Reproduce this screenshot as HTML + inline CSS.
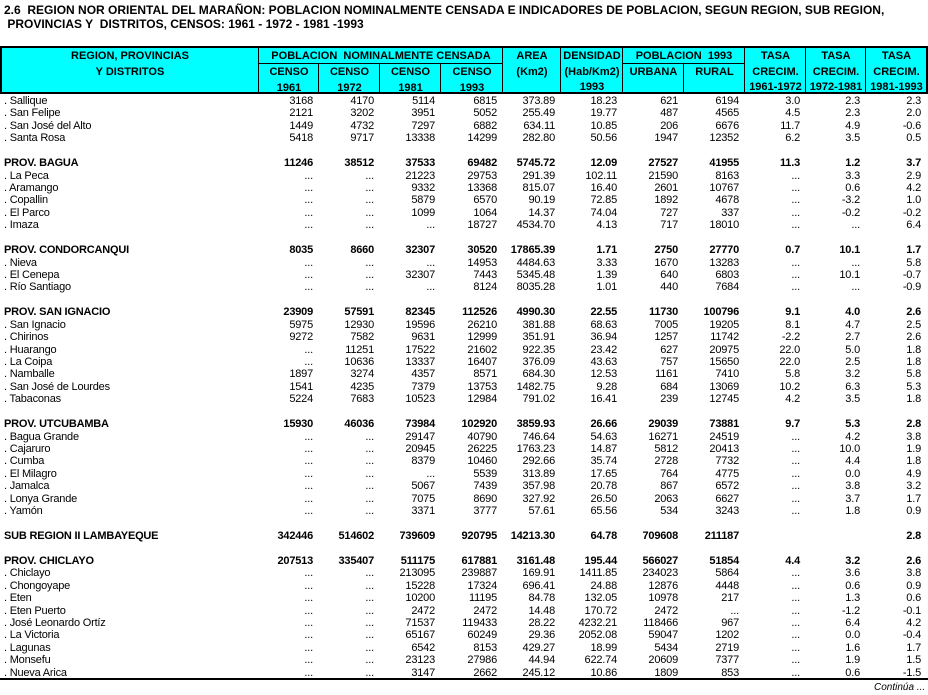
<!DOCTYPE html>
<html><head><meta charset="utf-8">
<style>
body{margin:0;width:928px;height:695px;background:#fff;font-family:"Liberation Sans",Arial,sans-serif;color:#000;position:relative;overflow:hidden}
.t{position:absolute;font-weight:bold;font-size:12px;white-space:nowrap;left:4px}
.h{position:absolute;background:#00ffff;font-weight:bold;font-size:11px;text-align:center;box-sizing:border-box;line-height:15.5px;padding-top:1px}
.c{position:absolute;font-size:11px;white-space:nowrap;height:12px;line-height:12px;letter-spacing:-0.2px}
.r{text-align:right}
.b{font-weight:bold}
.ln{position:absolute;background:#000}
</style></head><body>
<div class="t" style="top:3px">2.6&nbsp; REGION NOR ORIENTAL DEL MARAÑON: POBLACION NOMINALMENTE CENSADA E INDICADORES DE POBLACION, SEGUN REGION, SUB REGION,</div>
<div class="t" style="top:17px">&nbsp;PROVINCIAS Y&nbsp; DISTRITOS, CENSOS: 1961 - 1972 - 1981 -1993</div>
<div id="hdr"></div>
<div id="body"></div>
<div style="position:absolute;left:874px;top:682px;font-size:10px;font-style:italic">Continúa ...</div>
<script>
const edges=[1,259,319,380,441,503,561,623,684,745,806,866,927];
const rowNames=[". Sallique",". San Felipe",". San José del Alto",". Santa Rosa","","PROV. BAGUA",". La Peca",". Aramango",". Copallin",". El Parco",". Imaza","","PROV. CONDORCANQUI",". Nieva",". El Cenepa",". Río Santiago","","PROV. SAN IGNACIO",". San Ignacio",". Chirinos",". Huarango",". La Coipa",". Namballe",". San José de Lourdes",". Tabaconas","","PROV. UTCUBAMBA",". Bagua Grande",". Cajaruro",". Cumba",". El Milagro",". Jamalca",". Lonya Grande",". Yamón","","SUB REGION  II LAMBAYEQUE","","PROV. CHICLAYO",". Chiclayo",". Chongoyape",". Eten",". Eten Puerto",". José Leonardo Ortíz",". La Victoria",". Lagunas",". Monsefu",". Nueva Arica"];
const rowValues=[
"3168 4170 5114 6815 373.89 18.23 621 6194 3.0 2.3 2.3",
"2121 3202 3951 5052 255.49 19.77 487 4565 4.5 2.3 2.0",
"1449 4732 7297 6882 634.11 10.85 206 6676 11.7 4.9 -0.6",
"5418 9717 13338 14299 282.80 50.56 1947 12352 6.2 3.5 0.5",
"",
"11246 38512 37533 69482 5745.72 12.09 27527 41955 11.3 1.2 3.7",
"... ... 21223 29753 291.39 102.11 21590 8163 ... 3.3 2.9",
"... ... 9332 13368 815.07 16.40 2601 10767 ... 0.6 4.2",
"... ... 5879 6570 90.19 72.85 1892 4678 ... -3.2 1.0",
"... ... 1099 1064 14.37 74.04 727 337 ... -0.2 -0.2",
"... ... ... 18727 4534.70 4.13 717 18010 ... ... 6.4",
"",
"8035 8660 32307 30520 17865.39 1.71 2750 27770 0.7 10.1 1.7",
"... ... ... 14953 4484.63 3.33 1670 13283 ... ... 5.8",
"... ... 32307 7443 5345.48 1.39 640 6803 ... 10.1 -0.7",
"... ... ... 8124 8035.28 1.01 440 7684 ... ... -0.9",
"",
"23909 57591 82345 112526 4990.30 22.55 11730 100796 9.1 4.0 2.6",
"5975 12930 19596 26210 381.88 68.63 7005 19205 8.1 4.7 2.5",
"9272 7582 9631 12999 351.91 36.94 1257 11742 -2.2 2.7 2.6",
"... 11251 17522 21602 922.35 23.42 627 20975 22.0 5.0 1.8",
"... 10636 13337 16407 376.09 43.63 757 15650 22.0 2.5 1.8",
"1897 3274 4357 8571 684.30 12.53 1161 7410 5.8 3.2 5.8",
"1541 4235 7379 13753 1482.75 9.28 684 13069 10.2 6.3 5.3",
"5224 7683 10523 12984 791.02 16.41 239 12745 4.2 3.5 1.8",
"",
"15930 46036 73984 102920 3859.93 26.66 29039 73881 9.7 5.3 2.8",
"... ... 29147 40790 746.64 54.63 16271 24519 ... 4.2 3.8",
"... ... 20945 26225 1763.23 14.87 5812 20413 ... 10.0 1.9",
"... ... 8379 10460 292.66 35.74 2728 7732 ... 4.4 1.8",
"... ... ... 5539 313.89 17.65 764 4775 ... 0.0 4.9",
"... ... 5067 7439 357.98 20.78 867 6572 ... 3.8 3.2",
"... ... 7075 8690 327.92 26.50 2063 6627 ... 3.7 1.7",
"... ... 3371 3777 57.61 65.56 534 3243 ... 1.8 0.9",
"",
"342446 514602 739609 920795 14213.30 64.78 709608 211187 _ _ 2.8",
"",
"207513 335407 511175 617881 3161.48 195.44 566027 51854 4.4 3.2 2.6",
"... ... 213095 239887 169.91 1411.85 234023 5864 ... 3.6 3.8",
"... ... 15228 17324 696.41 24.88 12876 4448 ... 0.6 0.9",
"... ... 10200 11195 84.78 132.05 10978 217 ... 1.3 0.6",
"... ... 2472 2472 14.48 170.72 2472 ... ... -1.2 -0.1",
"... ... 71537 119433 28.22 4232.21 118466 967 ... 6.4 4.2",
"... ... 65167 60249 29.36 2052.08 59047 1202 ... 0.0 -0.4",
"... ... 6542 8153 429.27 18.99 5434 2719 ... 1.6 1.7",
"... ... 23123 27986 44.94 622.74 20609 7377 ... 1.9 1.5",
"... ... 3147 2662 245.12 10.86 1809 853 ... 0.6 -1.5"];

const hdr=document.getElementById('hdr');
function hcell(x1,x2,y1,y2,html,name){
  const d=document.createElement('div');d.className='h';
  d.style.left=x1+'px';d.style.top=y1+'px';d.style.width=(x2-x1)+'px';d.style.height=(y2-y1)+'px';
  d.innerHTML=html;
  
  
  hdr.appendChild(d);
}
const T=48,M=63,B=92;
hcell(edges[0],edges[12],T,B,'','header-background');
hcell(edges[0],edges[1],T,B,'REGION, PROVINCIAS<br>Y DISTRITOS','header-region');
hcell(edges[1],edges[5],T,M,'POBLACION&nbsp; NOMINALMENTE CENSADA','header-poblacion');
const cs=['1961','1972','1981','1993'];
for(let i=0;i<4;i++)hcell(edges[1+i],edges[2+i],M+1,B,'CENSO<br>'+cs[i],'header-censo-'+cs[i]);
hcell(edges[5],edges[6],T,B,'AREA<br>(Km2)','header-area');
hcell(edges[6],edges[7],T,B,'DENSIDAD<br>(Hab/Km2)<br>1993','header-densidad');
hcell(edges[7],edges[9],T,M,'POBLACION&nbsp; 1993','header-poblacion-1993');
hcell(edges[7],edges[8],M+1,B,'URBANA','header-urbana');
hcell(edges[8],edges[9],M+1,B,'RURAL','header-rural');
const tp=['1961-1972','1972-1981','1981-1993'];
for(let i=0;i<3;i++)hcell(edges[9+i],edges[10+i],T,B,'TASA<br>CRECIM.<br>'+tp[i],'header-tasa-'+tp[i]);
function line(x,y,w,h,name){const d=document.createElement('div');d.className='ln';d.style.left=x+'px';d.style.top=y+'px';d.style.width=w+'px';d.style.height=h+'px';


hdr.appendChild(d);}
line(0,46,928,2,'header-top-border');
line(0,92,928,2,'header-bottom-border');
line(0,46,2,48,'header-left-border');
line(926,46,2,48,'header-right-border');
line(edges[1],M,edges[5]-edges[1],1,'header-divider');
line(edges[7],M,edges[9]-edges[7],1,'header-divider');
for(let i=1;i<12;i++){
  const top=(i>=2&&i<=4)||i===8?M:46;
  line(edges[i]-1,top,1,94-top,'header-column-border');
}
line(0,678,928,2,'table-bottom-border');

const body=document.getElementById('body');
const y0=95,rh=12.43;
rowNames.forEach((nm,i)=>{
  if(!nm)return;
  const bold=!nm.startsWith('.');
  const y=Math.round(y0+i*rh);
  const lab=document.createElement('div');
  lab.className='c'+(bold?' b':'');
  lab.style.left='4px';lab.style.top=y+'px';
  lab.textContent=nm;
  
  
  body.appendChild(lab);
  const vals=rowValues[i].split(' ');
  vals.forEach((v,j)=>{
    if(v==='_')return;
    const d=document.createElement('div');
    d.className='c r'+(bold?' b':'');
    d.style.left=edges[j+1]+'px';d.style.top=y+'px';
    d.style.width=(edges[j+2]-edges[j+1]-6)+'px';
    d.textContent=v;
    
    
    body.appendChild(d);
  });
});
</script>
</body></html>
